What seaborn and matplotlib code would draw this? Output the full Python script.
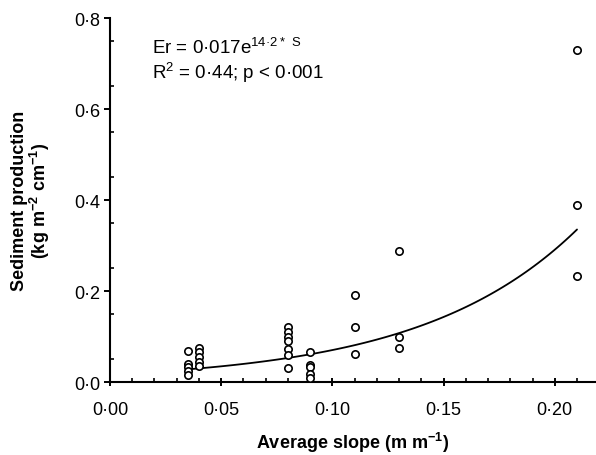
import numpy as np
import pandas as pd
import matplotlib
matplotlib.use('Agg')
import matplotlib.pyplot as plt
import seaborn as sns

sns.set_style('ticks')
plt.rcParams['font.family'] = ['Liberation Sans', 'DejaVu Sans']
plt.rcParams['mathtext.fontset'] = 'custom'
plt.rcParams['mathtext.rm'] = 'Liberation Sans'
plt.rcParams['mathtext.bf'] = 'Liberation Sans:bold'
for k in ['text.color', 'axes.labelcolor', 'xtick.color', 'ytick.color', 'axes.edgecolor']:
    plt.rcParams[k] = 'black'

# observed plots: average slope (m/m) and sediment production (kg m-2 cm-1)
slope = [0.035, 0.035, 0.035, 0.035, 0.035,
         0.040, 0.040, 0.040, 0.040, 0.040,
         0.080, 0.080, 0.080, 0.080, 0.080, 0.080, 0.080,
         0.090, 0.090, 0.090, 0.090, 0.090,
         0.110, 0.110, 0.110,
         0.130, 0.130, 0.130,
         0.210, 0.210, 0.210]
sediment = [0.069, 0.040, 0.032, 0.025, 0.015,
            0.074, 0.065, 0.056, 0.045, 0.036,
            0.122, 0.111, 0.100, 0.091, 0.073, 0.060, 0.031,
            0.065, 0.037, 0.034, 0.018, 0.009,
            0.191, 0.122, 0.062,
            0.288, 0.098, 0.075,
            0.730, 0.390, 0.234]

# fitted model Er = a * exp(b * S), as printed on the chart
fit_a = 0.017
fit_b = 14.2
fit_range = [0.035, 0.21]

xticks = [0.0, 0.05, 0.10, 0.15, 0.20]
xticklabels = ['0·00', '0·05', '0·10', '0·15', '0·20']
yticks = [0.0, 0.2, 0.4, 0.6, 0.8]
yticklabels = ['0·0', '0·2', '0·4', '0·6', '0·8']

df = pd.DataFrame({'slope': slope, 'sediment': sediment})
s_fit = np.linspace(fit_range[0], fit_range[1], 100)
fit = pd.DataFrame({'slope': s_fit, 'sediment': fit_a * np.exp(fit_b * s_fit)})

fig = plt.figure(figsize=(5.96, 4.56), dpi=100)
ax = fig.add_axes([0.1846, 0.160, 0.8134, 0.798])

sns.lineplot(data=fit, x='slope', y='sediment', color='black', lw=1.3, ax=ax)
sns.scatterplot(data=df, x='slope', y='sediment', marker='o', s=28,
                facecolor='white', edgecolor='black', linewidth=1.2,
                ax=ax, zorder=3)

ax.set_xlim(0, 0.218)
ax.set_ylim(0, 0.8)
ax.set_xticks(xticks)
ax.set_xticklabels(xticklabels)
ax.set_yticks(yticks)
ax.set_yticklabels(yticklabels)
ax.set_xticks(np.arange(0.01, 0.215, 0.01), minor=True)
ax.set_yticks(np.arange(0.05, 0.8, 0.1), minor=True)

ax.tick_params(axis='x', which='major', direction='inout', length=6, width=1.4,
               labelsize=13, pad=10.5)
ax.tick_params(axis='y', which='major', direction='out', length=4, width=1.4,
               labelsize=13, pad=3)
ax.tick_params(which='minor', direction='in', length=3, width=1.2)

for sp in ['left', 'bottom']:
    ax.spines[sp].set_linewidth(1.5)
sns.despine(ax=ax)

ax.set_xlabel('Average slope (m m$^{\\mathbf{-1}}$)', fontsize=13, fontweight='bold',
              va='baseline')
ax.set_ylabel('Sediment production\n(kg m$^{\\mathbf{-2}}$ cm$^{\\mathbf{-1}}$)',
              fontsize=13, fontweight='bold', linespacing=1.0)
ax.yaxis.set_label_coords(-0.12, 0.5)
ax.xaxis.set_label_coords(0.5, -0.18)

ax.text(0.087, 0.923, 'Er = 0·017e$^{\\mathrm{14·2*\\ S}}$', transform=ax.transAxes,
        fontsize=13.5, va='center')
ax.text(0.087, 0.852, 'R$^{\\mathrm{2}}$ = 0·44; p < 0·001', transform=ax.transAxes,
        fontsize=13.5, va='center')

fig.savefig('out.png', dpi=100)
